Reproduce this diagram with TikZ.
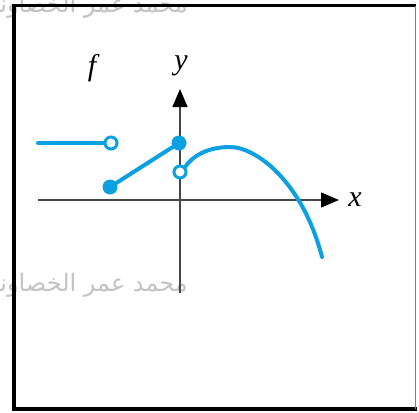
\documentclass[tikz,border=0pt]{standalone}
\usepackage{fontspec}
\setmainfont{Liberation Serif}
\newfontfamily\arabicfont[Script=Arabic]{DejaVu Sans}
\TeXXeTstate=1
\usetikzlibrary{arrows.meta}
\definecolor{fblue}{RGB}{10,160,225}
\definecolor{axisgray}{RGB}{70,70,70}
\definecolor{wmgray}{RGB}{195,195,195}
\tikzset{
  graphline/.style={fblue, line width=4pt, line cap=round},
  axisline/.style={axisgray, line width=1.5pt, -{Triangle[length=18pt,width=15pt,color=black]}},
  filleddot/.style={circle, fill=fblue, inner sep=0pt, minimum size=15pt},
  opendot/.style={circle, draw=fblue, fill=white, line width=3pt, inner sep=0pt, minimum size=12pt},
  axislabel/.style={font=\itshape\fontsize{30}{30}\selectfont, inner sep=0pt},
  watermark/.style={font=\arabicfont\fontsize{24}{24}\selectfont, text=wmgray, inner sep=0pt, anchor=east}
}
\begin{document}
\begin{tikzpicture}[x=1pt,y=-1pt]
\useasboundingbox (0,0) rectangle (419,412);
% watermarks
\node[watermark] (wm1) at (188,6) {\beginR محمد عمر الخصاونة\endR};
\node[watermark] (wm2) at (188,285) {\beginR محمد عمر الخصاونة\endR};
% frame
\draw[black, line width=3pt] (12,6) -- (416,6);
\draw[black, line width=4pt] (14,4.5) -- (14,411);
\draw[black, line width=4pt] (12,409) -- (417,409);
\draw[gray, line width=1.5pt] (415.5,6) -- (415.5,409);
% axes
\coordinate (xs) at (38,200);
\coordinate (xe) at (339,200);
\coordinate (ys) at (180,293);
\coordinate (ye) at (180,89);
\draw[axisline] (xs) -- (xe);
\draw[axisline] (ys) -- (ye);
\node[axislabel] (xl) at (355,200) {x};
\node[axislabel] (yl) at (181,66) {y};
\node[axislabel] (fl) at (92,68) {f};
% graph pieces
\coordinate (h0) at (38,143);
\node[opendot] (o1) at (111,143) {};
\node[filleddot] (d1) at (110,187) {};
\node[filleddot] (d2) at (179,143) {};
\node[opendot] (o2) at (180,172) {};
\coordinate (peak) at (230,147);
\coordinate (cend) at (322,257);
\draw[graphline] (h0) -- (o1.west);
\draw[graphline] (d1) -- (d2);
\draw[graphline] (o2.north east) .. controls (195,153) and (212,147) .. (peak)
  .. controls (255,147) and (302,180) .. (cend);
\end{tikzpicture}
\end{document}
